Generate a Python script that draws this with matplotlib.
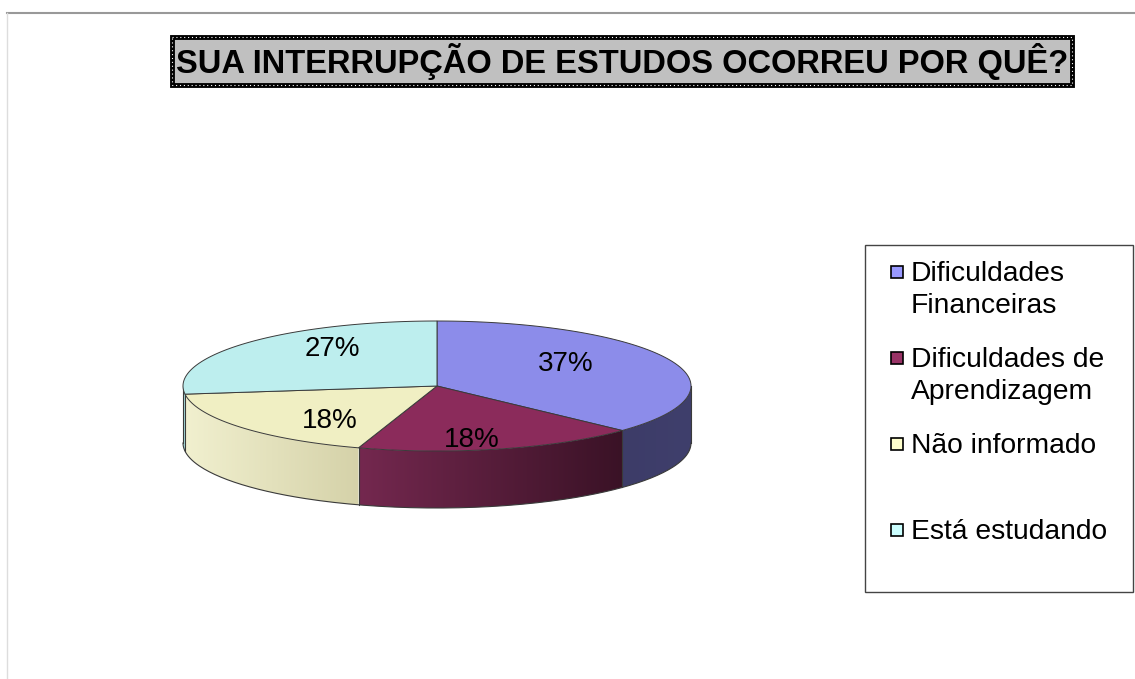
import numpy as np
import matplotlib
matplotlib.use('Agg')
import matplotlib.pyplot as plt
from matplotlib.patches import Polygon, Rectangle
from matplotlib.colors import to_rgb

plt.rcParams['font.family'] = ['Liberation Sans', 'DejaVu Sans']

title = 'SUA INTERRUPÇÃO DE ESTUDOS OCORREU POR QUÊ?'
labels = ['Dificuldades\nFinanceiras', 'Dificuldades de\nAprendizagem',
          'Não informado', 'Está estudando']
values = [37, 18, 18, 27]

top_colors = ['#8c8cea', '#8b2b5b', '#f0efc3', '#bdeeee']
side_left = ['#3d3c68', '#74284f', '#f1f0cf', '#a9dddd']
side_right = ['#3f3f6c', '#3a1226', '#d5d2a9', '#a9dddd']
legend_colors = ['#9999ff', '#993366', '#ffffcc', '#ccffff']

W, H = 1135, 679
fig = plt.figure(figsize=(W / 100, H / 100), dpi=100)
ax = fig.add_axes([0, 0, 1, 1])
ax.set_xlim(0, W)
ax.set_ylim(H, 0)
ax.axis('off')

# chart area frame
ax.plot([7, W], [13, 13], color='#999999', lw=1.5)
ax.plot([7, 7], [13, H], color='#dddddd', lw=1)

# pie geometry (pixels)
cx, cy, rx, ry, depth = 437, 386, 254, 65, 57


def pt(t, r=1.0):
    # t: angle clockwise from 12 o'clock
    return cx + r * rx * np.sin(t), cy - r * ry * np.cos(t)


fracs = np.array(values) / sum(values)
bounds = np.concatenate([[0], np.cumsum(fracs)]) * 2 * np.pi
edge = '#3a3a3a'

# side walls (front half only), shaded left to right
for i in range(len(values)):
    a0, a1 = max(bounds[i], np.pi / 2), min(bounds[i + 1], 1.5 * np.pi)
    if a1 <= a0:
        continue
    ts = np.linspace(a0, a1, 120)
    xs, ys = pt(ts)
    outline = list(zip(xs, ys)) + list(zip(xs[::-1], ys[::-1] + depth))
    clip = Polygon(outline, closed=True, fc='none', ec='none')
    ax.add_patch(clip)
    c0, c1 = np.array(to_rgb(side_left[i])), np.array(to_rgb(side_right[i]))
    u = np.linspace(0, 1, 256)[None, :, None]
    grad = c0 + (c1 - c0) * u
    im = ax.imshow(grad, extent=[xs.min(), xs.max(), ys.max() + depth, ys.min()],
                   aspect='auto', interpolation='bilinear', zorder=1)
    im.set_clip_path(clip)
    if np.pi / 2 < bounds[i] < 1.5 * np.pi:
        x, y = pt(bounds[i])
        ax.plot([x, x], [y, y + depth], color=edge, lw=0.8, zorder=2)

ts = np.linspace(np.pi / 2, 1.5 * np.pi, 200)
xs, ys = pt(ts)
ax.plot(xs, ys + depth, color=edge, lw=0.8, zorder=2)
for t in (np.pi / 2, 1.5 * np.pi):
    x, y = pt(t)
    ax.plot([x, x], [y, y + depth], color=edge, lw=0.8, zorder=2)

# top face
for i in range(len(values)):
    ts = np.linspace(bounds[i], bounds[i + 1], 120)
    xs, ys = pt(ts)
    poly = [(cx, cy)] + list(zip(xs, ys))
    ax.add_patch(Polygon(poly, closed=True, fc=top_colors[i], ec=edge,
                         lw=0.7, zorder=3))
    mid = (bounds[i] + bounds[i + 1]) / 2
    lx = cx + 0.55 * rx * np.sin(mid)
    ly = cy - 0.85 * ry * np.cos(mid)
    ax.text(lx, ly, f'{values[i]}%', fontsize=20, ha='center', va='center',
            color='black', zorder=4)

# title box
ax.add_patch(Rectangle((172, 37), 900, 48, fc='#c0c0c0', ec='black', lw=3.5))
ax.add_patch(Rectangle((172, 37), 900, 48, fill=False, ec='white', lw=0.8,
                       linestyle=(0, (1, 2.5))))
ax.text(622, 62, title, fontsize=23.5, fontweight='bold', ha='center',
        va='center', color='black')

# legend
ax.add_patch(Rectangle((865, 245), 268, 347, fc='white', ec='#444444', lw=1))
for i, lab in enumerate(labels):
    y0 = 272 + 86 * i
    ax.add_patch(Rectangle((891, y0 - 6), 12, 12, fc=legend_colors[i],
                           ec='black', lw=1.2))
    ax.text(911, y0 - 11, lab, fontsize=20.3, ha='left', va='top',
            linespacing=1.32, color='black')

fig.savefig('out.png', dpi=100)
